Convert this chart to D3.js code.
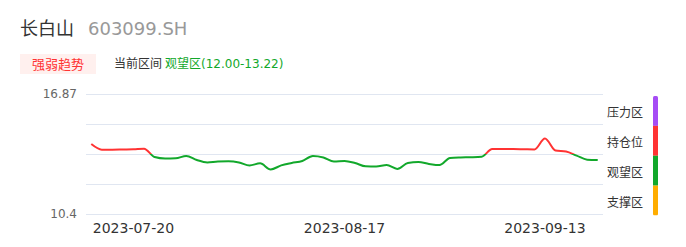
<!DOCTYPE html>
<meta charset="utf-8">
<html>
<head>
<script src="https://cdn.jsdelivr.net/npm/d3@7/dist/d3.min.js"></script>
<style>
  body { margin: 0; background: #fff; }
  svg { display: block; font-family: "DejaVu Sans", "Noto Sans CJK SC", sans-serif; }
</style>
</head>
<body>
<svg width="686" height="247"></svg>
<script>
// stock + header text
var stockName = "长白山";
var stockCode = "603099.SH";
var badgeText = "强弱趋势";
var rangeLabel = "当前区间";
var rangeText = "观望区(12.00-13.22)";

// trading days shown on the x axis
var dates = [
  "2023-07-14","2023-07-17","2023-07-18","2023-07-19","2023-07-20","2023-07-21","2023-07-24",
  "2023-07-25","2023-07-26","2023-07-27","2023-07-28","2023-07-31","2023-08-01","2023-08-02",
  "2023-08-03","2023-08-04","2023-08-07","2023-08-08","2023-08-09","2023-08-10","2023-08-11",
  "2023-08-14","2023-08-15","2023-08-16","2023-08-17","2023-08-18","2023-08-21","2023-08-22",
  "2023-08-23","2023-08-24","2023-08-25","2023-08-28","2023-08-29","2023-08-30","2023-08-31",
  "2023-09-01","2023-09-04","2023-09-05","2023-09-06","2023-09-07","2023-09-08","2023-09-11",
  "2023-09-12","2023-09-13","2023-09-14","2023-09-15","2023-09-18","2023-09-19","2023-09-20"
];
// closing line values
var values = [
  14.17, 13.87, 13.87, 13.88, 13.89, 13.92, 13.47, 13.39, 13.40, 13.53,
  13.31, 13.18, 13.23, 13.24, 13.18, 13.02, 13.13, 12.80, 13.02, 13.15,
  13.26, 13.53, 13.45, 13.23, 13.26, 13.15, 12.97, 12.96, 13.04, 12.83,
  13.15, 13.20, 13.10, 13.04, 13.42, 13.45, 13.46, 13.49, 13.90, 13.90,
  13.90, 13.89, 13.88, 14.47, 13.82, 13.77, 13.55, 13.33, 13.31
];
var xTickLabels = ["2023-07-20", "2023-08-17", "2023-09-13"];
var yMin = 10.4, yMax = 16.87;
var threshold = 13.635;   // line turns red above this

// zones on the right, top to bottom
var zones = ["压力区", "持仓位", "观望区", "支撑区"];
var zoneColors = ["#a64cf5", "#ff3333", "#12a82b", "#ffad00"];

var svg = d3.select("svg");

// header
svg.append("text").attr("x", 20).attr("y", 35)
  .attr("font-size", 18).attr("fill", "#333").text(stockName);
svg.append("text").attr("x", 88).attr("y", 35)
  .attr("font-size", 18).attr("fill", "#999").text(stockCode);

svg.append("rect").attr("x", 20).attr("y", 54).attr("width", 76).attr("height", 20)
  .attr("fill", "#fff0ee");
svg.append("text").attr("x", 58).attr("y", 68.5).attr("text-anchor", "middle")
  .attr("font-size", 13).attr("fill", "#ff3333").text(badgeText);
svg.append("text").attr("x", 114).attr("y", 68)
  .attr("font-size", 12).attr("fill", "#333").text(rangeLabel);
svg.append("text").attr("x", 165).attr("y", 68)
  .attr("font-size", 12).attr("fill", "#12a82b").text(rangeText);

// scales
var x = d3.scalePoint().domain(dates).range([86, 603]).padding(0.5);
var y = d3.scaleLinear().domain([yMin, yMax]).range([214, 94]);

// grid lines (4 equal steps)
var gridVals = d3.range(5).map(function(i) { return yMin + (yMax - yMin) * i / 4; });
svg.append("g").selectAll("line").data(gridVals).enter().append("line")
  .attr("x1", 86).attr("x2", 603)
  .attr("y1", function(d) { return Math.round(y(d)) + 0.5; })
  .attr("y2", function(d) { return Math.round(y(d)) + 0.5; })
  .attr("stroke", "#e0e6f1").attr("stroke-width", 1);

// y labels, only min and max
svg.append("g").selectAll("text").data([yMax, yMin]).enter().append("text")
  .attr("x", 77).attr("y", function(d) { return y(d) + 4; })
  .attr("text-anchor", "end").attr("font-size", 12).attr("fill", "#666")
  .text(function(d) { return d; });

// x labels
svg.append("g").selectAll("text").data(xTickLabels).enter().append("text")
  .attr("x", function(d) { return x(d); }).attr("y", 233)
  .attr("text-anchor", "middle").attr("font-size", 14).attr("fill", "#333")
  .text(function(d) { return d; });

// line coloured by threshold
var grad = svg.append("defs").append("linearGradient")
  .attr("id", "lineGrad").attr("gradientUnits", "userSpaceOnUse")
  .attr("x1", 0).attr("x2", 0).attr("y1", y(yMax)).attr("y2", y(yMin));
var t = (y(threshold) - y(yMax)) / (y(yMin) - y(yMax));
grad.append("stop").attr("offset", t).attr("stop-color", "#ff3333");
grad.append("stop").attr("offset", t).attr("stop-color", "#12a82b");

var line = d3.line()
  .x(function(d, i) { return x(dates[i]); })
  .y(function(d) { return y(d); })
  .curve(d3.curveMonotoneX);

svg.append("path").datum(values)
  .attr("d", line)
  .attr("fill", "none")
  .attr("stroke", "url(#lineGrad)")
  .attr("stroke-width", 2)
  .attr("stroke-linejoin", "round");

// zone bar + labels
var zy = d3.scaleBand().domain(zones).range([96, 215.5]);
var clip = svg.append("defs").append("clipPath").attr("id", "barClip");
clip.append("rect").attr("x", 653).attr("y", 96).attr("width", 5).attr("height", 119.5).attr("rx", 1.5);

svg.append("g").attr("clip-path", "url(#barClip)")
  .selectAll("rect").data(zones).enter().append("rect")
  .attr("x", 653).attr("y", function(d) { return zy(d); })
  .attr("width", 5).attr("height", zy.bandwidth())
  .attr("fill", function(d, i) { return zoneColors[i]; });

svg.append("g").selectAll("text").data(zones).enter().append("text")
  .attr("x", 607).attr("y", function(d) { return zy(d) + zy.bandwidth() / 2 + 6; })
  .attr("font-size", 12).attr("fill", "#333")
  .text(function(d) { return d; });
</script>
</body>
</html>
